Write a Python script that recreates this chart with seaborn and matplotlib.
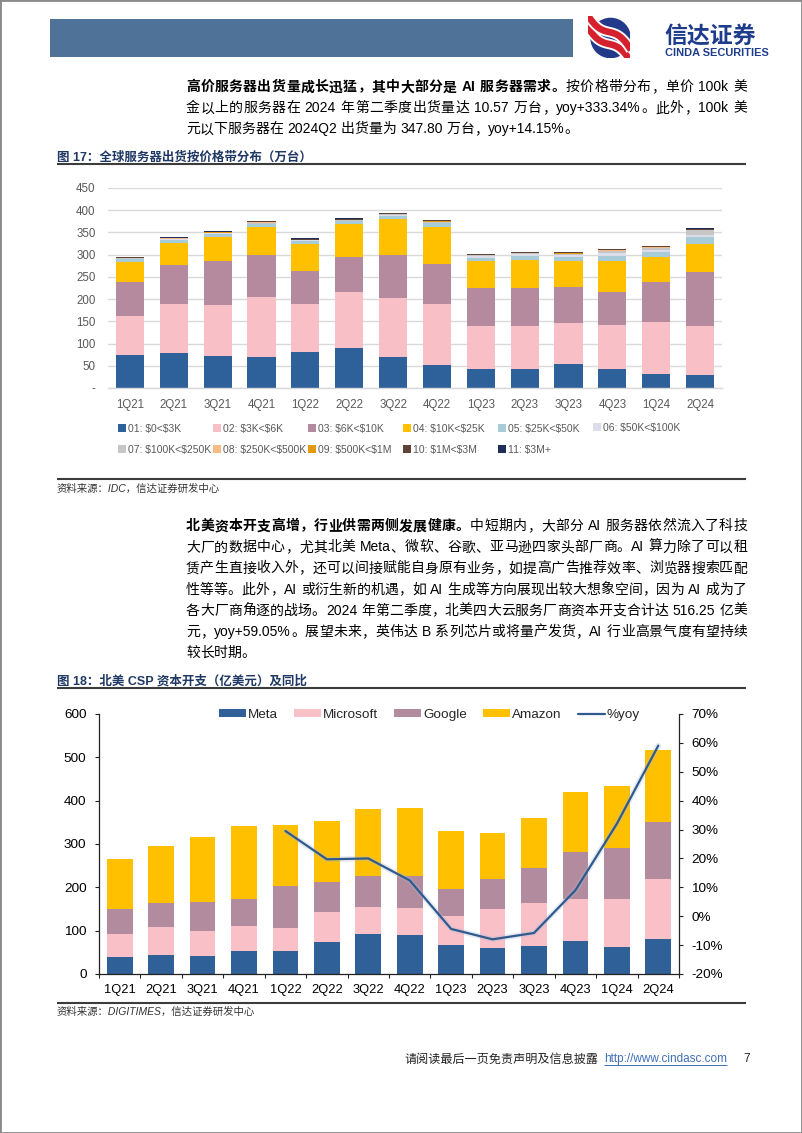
import re
import numpy as np
import pandas as pd
import matplotlib
matplotlib.use("Agg")
import matplotlib.pyplot as plt
import matplotlib.patheffects as pe
from matplotlib.patches import Rectangle, Circle, Patch
from matplotlib.lines import Line2D
from matplotlib.font_manager import FontProperties, fontManager
import seaborn as sns

# ---------------- data ----------------
quarters = ["1Q21", "2Q21", "3Q21", "4Q21", "1Q22", "2Q22", "3Q22",
            "4Q22", "1Q23", "2Q23", "3Q23", "4Q23", "1Q24", "2Q24"]

# Figure 17: server shipments by price band (10k units)
band_labels = ["01: $0<$3K", "02: $3K<$6K", "03: $6K<$10K", "04: $10K<$25K",
               "05: $25K<$50K", "06: $50K<$100K", "07: $100K<$250K",
               "08: $250K<$500K", "09: $500K<$1M", "10: $1M<$3M", "11: $3M+"]
band_01 = [75, 78, 73, 69, 80, 89, 70, 51, 43, 43, 53, 43, 32, 30]
band_02 = [88, 111, 114, 135, 108, 128, 133, 137, 97, 96, 93, 99, 116, 110]
band_03 = [75, 87, 98, 96, 76, 78, 97, 92, 84, 86, 81, 75, 91, 120]
band_04 = [45, 50, 54, 62, 61, 73, 80, 82, 61, 62, 58, 68, 56, 65]
band_05 = [7, 8, 8, 7, 6, 7, 8, 9, 8, 9, 10, 11, 10, 15]
band_06 = [1, 1, 1, 1, 1, 1, 1, 1, 3, 5, 5, 8, 5, 5]
band_07 = [1, 1, 1, 2, 1, 2, 2, 2, 3, 2, 2, 5, 6, 10]
band_08 = [0.5, 0.5, 0.5, 0.5, 0.5, 0.5, 0.5, 0.5, 0.5, 0.5, 0.5, 0.5, 0.5, 1]
band_09 = [0.5, 0.5, 0.5, 0.5, 0.5, 0.5, 0.5, 0.5, 0.5, 0.5, 1, 0.5, 0.5, 0.5]
band_10 = [2, 1.5, 2, 2, 2, 2, 2, 2, 1.5, 2, 1.5, 2, 2, 2]
band_11 = [0.5, 0.5, 0.5, 0.5, 0.5, 0.5, 0.5, 0.5, 0.5, 0.5, 0.5, 0.5, 0.5, 0.5]
band_colors = ["#2E619A", "#F9BFC7", "#B58A9E", "#FFC000", "#A8CCD7",
               "#DCDCEA", "#C6C6C6", "#F6BC86", "#E39A10", "#5E4336", "#1F2D5A"]

# Figure 18: North-America CSP capex (100M USD) and yoy
csp_names = ["Meta", "Microsoft", "Google", "Amazon"]
capex_meta = [40, 44, 42, 52, 53, 75, 92, 89, 67, 61, 65, 76, 62, 80]
capex_microsoft = [52, 65, 57, 59, 54, 68, 63, 63, 67, 89, 98, 97, 111, 140]
capex_google = [59, 55, 68, 63, 96, 69, 72, 75, 62, 69, 81, 109, 118, 131]
capex_amazon = [115, 132, 150, 168, 141, 142, 154, 157, 133, 107, 115, 138, 144, 165]
csp_colors = ["#2F6098", "#F9C0C8", "#B38B9F", "#FFC000"]
yoy_quarters = ["1Q22", "2Q22", "3Q22", "4Q22", "1Q23", "2Q23", "3Q23", "4Q23", "1Q24", "2Q24"]
yoy_pct = [29.5, 19.7, 20.0, 12.4, -4.4, -8.0, -5.8, 9.0, 32.0, 59.05]
yoy_color = "#2F5A8E"
y2_ticks = [-20, -10, 0, 10, 20, 30, 40, 50, 60, 70]

# ---------------- setup ----------------
sns.set_theme(style="white")
_names = {f.name for f in fontManager.ttflist}
NARROW = "Liberation Sans Narrow" if "Liberation Sans Narrow" in _names else "Liberation Sans"
HAS_NARROW = NARROW == "Liberation Sans Narrow"
CJK = "Noto Sans CJK SC"
FAM_BODY = [NARROW, CJK]
FAM_ARIAL = ["Liberation Sans", CJK]
plt.rcParams["font.family"] = FAM_ARIAL
plt.rcParams["axes.unicode_minus"] = False

W, H = 802, 1133
fig = plt.figure(figsize=(W / 100, H / 100), dpi=100)
fig.patch.set_facecolor("white")
renderer = fig.canvas.get_renderer()


def fx(x):
    return x / W


def fy(y):
    return 1 - y / H


def hline(x0, x1, y, color="#3c3c3c", lw=1.5):
    fig.add_artist(Line2D([fx(x0), fx(x1)], [fy(y), fy(y)], transform=fig.transFigure,
                          color=color, lw=lw, solid_capstyle="butt"))


def base(yc, fs):
    return yc + 0.38 * fs * 100 / 72


def put(x, yc, s, fs, family=FAM_BODY, weight="normal", color="#000000", ha="left", style="normal"):
    return fig.text(fx(x), fy(base(yc, fs)), s, fontsize=fs, family=family, fontweight=weight,
                    color=color, ha=ha, va="baseline", fontstyle=style)


def _w(s, prop):
    return renderer.get_text_width_height_descent(s, prop, ismath=False)[0]


TOKEN = re.compile(r"[A-Za-z0-9.+%]+| |.")


def justified(segments, x0, x1, yc, fs, justify=True, family=FAM_BODY):
    items = []
    for s, bold in segments:
        for tok in TOKEN.findall(s):
            items.append((tok, bold))
    advs, lbs = [], []
    for tok, bold in items:
        prop = FontProperties(family=family, size=fs, weight="bold" if bold else "normal")
        ww = _w("中中", prop)
        w1 = _w("中", prop)
        adv = _w("中" + tok + "中", prop) - ww
        if tok == " ":
            lb = 0
        else:
            lb = _w("中" + tok, prop) - _w(tok, prop) - (ww - w1)
        advs.append(adv)
        lbs.append(lb)
    gap = 0
    if justify and len(items) > 1:
        gap = (x1 - x0 - sum(advs)) / (len(items) - 1)
    x = x0
    for (tok, bold), a, lb in zip(items, advs, lbs):
        if tok != " ":
            put(x + lb, yc, tok, fs, family=family, weight="bold" if bold else "normal")
        x += a + gap


# ---------------- page frame / header ----------------
fig.patches.append(Rectangle((0, 0), 1, 1, transform=fig.transFigure, fill=False,
                             edgecolor="#8a8a8a", lw=2))
fig.patches.append(Rectangle((fx(50), fy(57)), (573 - 50) / W, (57 - 19) / H,
                             transform=fig.transFigure, facecolor="#4E7298", edgecolor="none"))
lax = fig.add_axes([fx(588), fy(58), 42 / W, 42 / H])
lax.set_xlim(-1.05, 1.05)
lax.set_ylim(-1.05, 1.05)
lax.set_aspect("equal")
lax.axis("off")
lax.add_patch(Circle((0.08, -0.05), 0.98, color="#233A8B"))
tt = np.linspace(-1.2, 1.1, 120)
for off in (-0.35, 0.25):
    ys = -0.95 * tt + 0.3 * np.sin(2.4 * tt) + off
    lax.plot(tt, ys, color="white", lw=7.5, solid_capstyle="butt")
    lax.plot(tt, ys, color="#D5202E", lw=4.8, solid_capstyle="butt")
put(664, 34.5, "信达证券", 16.5, family=[CJK], weight="bold", color="#1E3C8C")
put(665, 52, "CINDA SECURITIES", 7.9, family=["Liberation Sans"], weight="bold", color="#1E3C8C")

# ---------------- paragraph 1 ----------------
FS = 10
PX0, PX1 = 186, 747
justified([("高价服务器出货量成长迅猛，其中大部分是 AI 服务器需求。", True),
           ("按价格带分布，单价 100k 美", False)], PX0, PX1, 86, FS)
justified([("金以上的服务器在 2024 年第二季度出货量达 10.57 万台，yoy+333.34%。此外，100k 美", False)],
          PX0, PX1, 107, FS)
justified([("元以下服务器在 2024Q2 出货量为 347.80 万台，yoy+14.15%。", False)], PX0, PX1, 128, FS,
          justify=False)

# ---------------- figure 17 title ----------------
TITLE_C = "#1F3864"
put(57, 156, "图 17：全球服务器出货按价格带分布（万台）", 9, family=FAM_ARIAL, weight="bold", color=TITLE_C)
hline(57, 746, 164)

# ---------------- chart 1 ----------------
ax1 = fig.add_axes([fx(108), fy(388), (722 - 108) / W, (388 - 188) / H])
bands = [band_01, band_02, band_03, band_04, band_05, band_06, band_07, band_08, band_09, band_10, band_11]
cum = np.cumsum(np.array(bands, dtype=float), axis=0)
for k in range(len(bands) - 1, -1, -1):
    sns.barplot(x=quarters, y=cum[k], order=quarters, color=band_colors[k], saturation=1,
                width=0.64, errorbar=None, ax=ax1)
for p in ax1.patches:
    p.set_linewidth(0)
ax1.set_xlim(-0.5, len(quarters) - 0.5)
ax1.set_ylim(0, 450)
yt = list(range(0, 451, 50))
ax1.set_yticks(yt)
ax1.set_yticklabels(["-"] + [str(v) for v in yt[1:]])
ax1.set_xlabel("")
ax1.set_ylabel("")
ax1.yaxis.grid(True, color="#D9D9D9", lw=1)
ax1.set_axisbelow(True)
for s in ("left", "right", "top"):
    ax1.spines[s].set_visible(False)
ax1.spines["bottom"].set_color("#D9D9D9")
ax1.spines["bottom"].set_linewidth(1)
TK1 = 9 if HAS_NARROW else 8.3
ax1.tick_params(axis="both", length=0, labelsize=TK1, labelcolor="#595959")
ax1.tick_params(axis="y", pad=9)
ax1.tick_params(axis="x", pad=8)
for lab in ax1.get_xticklabels() + ax1.get_yticklabels():
    lab.set_family([NARROW])

# legend: 6 columns x 2 rows, filled row-wise
LFS = 9 if HAS_NARROW else 7.5
handles = [Line2D([], [], marker="s", ls="", markersize=5.2, markeredgewidth=0, color=c)
           for c in band_colors]
labels = [l.replace("$", r"\$") for l in band_labels]
ncols = 6
for c in range(ncols):
    idx = [i for i in (c, c + ncols) if i < len(handles)]
    yc = 439.5 if len(idx) == 2 else 428
    fig.legend([handles[i] for i in idx], [labels[i] for i in idx], loc="center left",
               bbox_to_anchor=(fx(118 + 94.9 * c), fy(yc)), bbox_transform=fig.transFigure,
               frameon=False, ncol=1, handlelength=0.85, handletextpad=0.15, borderpad=0,
               borderaxespad=0, labelspacing=(23 - 1.15 * LFS * 100 / 72) / (LFS * 100 / 72),
               prop=FontProperties(family=[NARROW], size=LFS), labelcolor="#595959")

hline(57, 746, 479)
put(57, 487.5, "资料来源：IDC，信达证券研发中心", 7.5, family=FAM_ARIAL, color="#333333", style="italic")

# ---------------- paragraph 2 ----------------
p2 = [
    [("北美资本开支高增，行业供需两侧发展健康。", True), ("中短期内，大部分 AI 服务器依然流入了科技", False)],
    [("大厂的数据中心，尤其北美 Meta、微软、谷歌、亚马逊四家头部厂商。AI 算力除了可以租", False)],
    [("赁产生直接收入外，还可以间接赋能自身原有业务，如提高广告推荐效率、浏览器搜索匹配", False)],
    [("性等等。此外，AI 或衍生新的机遇，如 AI 生成等方向展现出较大想象空间，因为 AI 成为了", False)],
    [("各大厂商角逐的战场。2024 年第二季度，北美四大云服务厂商资本开支合计达 516.25 亿美", False)],
    [("元，yoy+59.05%。展望未来，英伟达 B 系列芯片或将量产发货，AI 行业高景气度有望持续", False)],
    [("较长时期。", False)],
]
for i, segs in enumerate(p2):
    justified(segs, PX0, PX1, 525 + 21.1 * i, FS, justify=(i < len(p2) - 1))

put(57, 680, "图 18：北美 CSP 资本开支（亿美元）及同比", 9, family=FAM_ARIAL, weight="bold", color=TITLE_C)
hline(57, 746, 688)

# ---------------- chart 2 ----------------
TK2 = 9.3
ax = fig.add_axes([fx(99), fy(974), (679 - 99) / W, (974 - 714) / H])
caps = [capex_meta, capex_microsoft, capex_google, capex_amazon]
ccum = np.cumsum(np.array(caps, dtype=float), axis=0)
for k in range(len(caps) - 1, -1, -1):
    sns.barplot(x=quarters, y=ccum[k], order=quarters, color=csp_colors[k], saturation=1,
                width=0.62, errorbar=None, ax=ax)
for p in ax.patches:
    p.set_linewidth(0)
ax.set_ylim(0, 600)
ax.set_yticks(range(0, 601, 100))
ax.set_xlabel("")
ax.set_ylabel("")
for s in ("left", "bottom"):
    ax.spines[s].set_color("#222222")
    ax.spines[s].set_linewidth(0.9)
ax.spines["top"].set_visible(False)
ax.spines["right"].set_visible(False)
ax.set_xticks(np.arange(-0.5, len(quarters), 1), minor=True)
ax.tick_params(axis="x", which="major", length=0, pad=7, labelsize=TK2, labelcolor="#000000")
ax.tick_params(axis="x", which="minor", length=3, direction="out", color="#222222", width=0.8, bottom=True)
ax.tick_params(axis="y", which="major", length=3, direction="out", color="#222222", width=0.8,
               pad=6, labelsize=TK2 + 0.4, labelcolor="#000000", left=True)

ax2 = ax.twinx()
ypos = [quarters.index(q) for q in yoy_quarters]
sns.lineplot(x=ypos, y=yoy_pct, ax=ax2, color=yoy_color, linewidth=1.6,
             path_effects=[pe.Stroke(linewidth=4, foreground="#A9BCD2", alpha=0.3), pe.Normal()])
ax2.set_ylim(-20, 70)
ax2.set_yticks(y2_ticks)
ax2.set_yticklabels([f"{v}%" for v in y2_ticks])
ax2.set_xlabel("")
ax2.set_ylabel("")
ax.set_xlim(-0.5, len(quarters) - 0.5)
for s in ("left", "bottom", "top"):
    ax2.spines[s].set_visible(False)
ax2.spines["right"].set_visible(True)
ax2.spines["right"].set_color("#222222")
ax2.spines["right"].set_linewidth(0.9)
ax2.tick_params(axis="y", length=3, direction="out", color="#222222", width=0.8, pad=6,
                labelsize=TK2 + 0.4, labelcolor="#000000", right=True)
ax2.grid(False)
ax.grid(False)

lh = [Patch(facecolor=c, edgecolor="none") for c in csp_colors] + \
     [Line2D([], [], color=yoy_color, lw=1.6)]
ax2.legend(lh, csp_names + ["%yoy"], loc="center left", bbox_to_anchor=(fx(219), fy(715)),
           bbox_transform=fig.transFigure, ncol=5, frameon=False, fontsize=9.7,
           handlelength=2.0, handleheight=0.55, handletextpad=0.15, columnspacing=1.2,
           borderpad=0, borderaxespad=0)

hline(57, 746, 1003)
put(57, 1011, "资料来源：DIGITIMES，信达证券研发中心", 7.5, family=FAM_ARIAL, color="#333333", style="italic")

# ---------------- footer ----------------
put(598, 1058, "请阅读最后一页免责声明及信息披露", 8.7, family=[CJK], ha="right", color="#222222")
UFS = 9.5 if HAS_NARROW else 8.5
url = put(604, 1058, "http://www.cindasc.com", UFS, family=[NARROW], color="#3F6FB5")
fig.canvas.draw()
bb = url.get_window_extent(renderer=renderer)
hline(bb.x0, bb.x1, base(1058, UFS) + 2.5, color="#3F6FB5", lw=0.7)
put(750, 1058, "7", UFS, family=[NARROW], ha="right", color="#222222")

fig.savefig("out.png", dpi=100, facecolor="white")
